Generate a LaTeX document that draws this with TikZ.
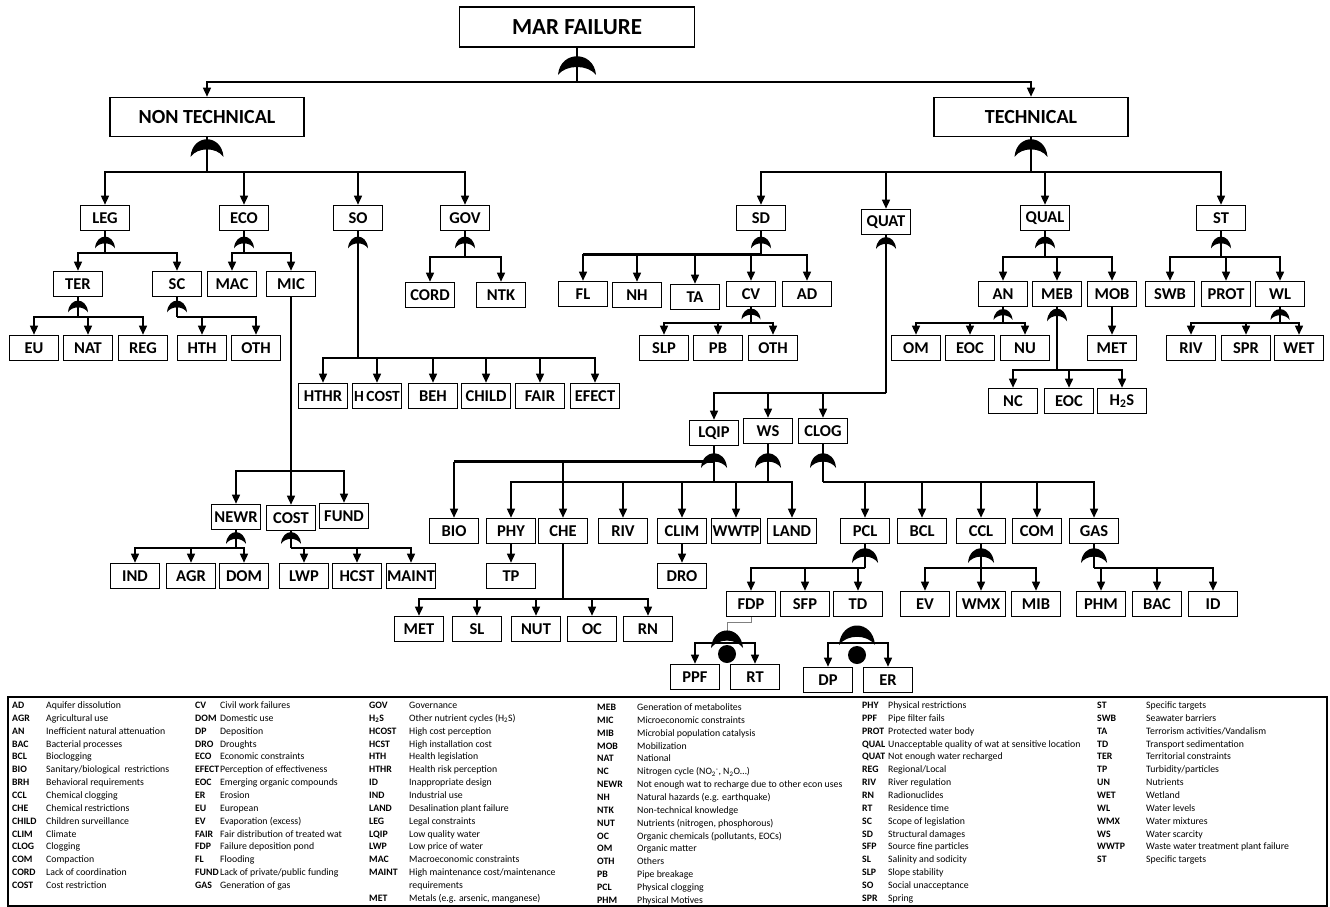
\documentclass[tikz,border=0pt]{standalone}
\usepackage{fontspec}
\setmainfont{Carlito}
\usepackage{array}
\usetikzlibrary{arrows.meta}

\newcommand\boxfont{\fontsize{16.5}{16.5}\selectfont\bfseries}
\newcommand\keyfont{\fontsize{9.8}{12.85}\selectfont}

\tikzset{
	box/.style={draw, line width=1.6pt, minimum width=49pt, minimum height=25pt, inner sep=0pt, font=\boxfont},
	bigbox/.style={box, minimum width=194pt, minimum height=39pt, font=\fontsize{20}{20}\selectfont\bfseries},
	topbox/.style={box, minimum width=235pt, minimum height=40pt, font=\fontsize{23}{23}\selectfont\bfseries},
	link/.style={line width=1.5pt},
	heavy/.style={line width=2.8pt},
	arr/.style={link, -{Triangle[width=8pt,length=9pt]}},
	key/.style={inner sep=0pt, anchor=base west, font=\keyfont},
	crescent/.pic={\fill (-0.5,0) .. controls (-0.44,-1.3) and (0.44,-1.3) .. (0.5,0)
		.. controls (0.28,-0.55) and (-0.28,-0.55) .. (-0.5,0) -- cycle;}
}

% gate under a node: node, tip offset, width, height
\newcommand\gate[4]{\pic[xscale=#3,yscale=#4] at ([yshift=-#2pt]#1.south) {crescent};}
% parent, drop to bar, children
\newcommand\fan[3]{\draw[link] (#1.south) -- ++(0,#2) coordinate (#1j);
	\foreach \c in {#3} {\draw[arr] (#1j) -| (\c.north);}}

\begin{document}
\begin{tikzpicture}[x=1pt, y=-1pt]
	\useasboundingbox (0,0) rectangle (1330,907);
	
	\node[topbox] (mar) at (577,27) {MAR FAILURE};
	\node[bigbox] (nontech) at (207,117) {NON TECHNICAL};
	\node[bigbox] (tech) at (1031,117) {TECHNICAL};
	
	% non technical branch
	\node[box] (leg) at (105,218) {LEG};
	\node[box] (eco) at (244,218) {ECO};
	\node[box] (so) at (358,218) {SO};
	\node[box] (gov) at (465,218) {GOV};
	\node[box] (ter) at (78,284) {TER};
	\node[box] (sc) at (177,284) {SC};
	\node[box] (mac) at (232,284) {MAC};
	\node[box] (mic) at (291,284) {MIC};
	\node[box] (cord) at (430,295) {CORD};
	\node[box] (ntk) at (501,295) {NTK};
	\node[box] (eu) at (34,348) {EU};
	\node[box] (nat) at (88,348) {NAT};
	\node[box] (reg) at (143,348) {REG};
	\node[box] (hth) at (202,348) {HTH};
	\node[box] (oth) at (256,348) {OTH};
	\node[box] (hthr) at (323,396) {HTHR};
	\node[box] (hcost) at (377,396) {\fontsize{15.5}{15.5}\selectfont H\,COST};
	\node[box] (beh) at (433,396) {BEH};
	\node[box] (child) at (486,396) {CHILD};
	\node[box] (fair) at (540,396) {FAIR};
	\node[box] (efect) at (595,396) {EFECT};
	\node[box] (newr) at (236,517) {NEWR};
	\node[box] (cost) at (291,518) {COST};
	\node[box] (fund) at (344,516) {FUND};
	\node[box] (ind) at (135,576) {IND};
	\node[box] (agr) at (191,576) {AGR};
	\node[box] (dom) at (244,576) {DOM};
	\node[box] (lwp) at (304,576) {LWP};
	\node[box] (hcst) at (357,576) {HCST};
	\node[box] (maint) at (411,576) {MAINT};
	
	% technical branch
	\node[box] (sd) at (761,218) {SD};
	\node[box] (quat) at (886,222) {QUAT};
	\node[box] (qual) at (1045,218) {QUAL};
	\node[box] (st) at (1221,218) {ST};
	\node[box] (fl) at (583,294) {FL};
	\node[box] (nh) at (637,295) {NH};
	\node[box] (ta) at (695,297) {TA};
	\node[box] (cv) at (751,294) {CV};
	\node[box] (ad) at (807,294) {AD};
	\node[box] (an) at (1003,294) {AN};
	\node[box] (meb) at (1057,294) {MEB};
	\node[box] (mob) at (1112,294) {MOB};
	\node[box] (swb) at (1170,294) {SWB};
	\node[box] (prot) at (1226,294) {PROT};
	\node[box] (wl) at (1280,294) {WL};
	\node[box] (slp) at (664,348) {SLP};
	\node[box] (pb) at (718,348) {PB};
	\node[box] (oth2) at (773,348) {OTH};
	\node[box] (om) at (916,348) {OM};
	\node[box] (eoc) at (970,348) {EOC};
	\node[box] (nu) at (1025,348) {NU};
	\node[box] (met) at (1112,348) {MET};
	\node[box] (riv) at (1191,348) {RIV};
	\node[box] (spr) at (1246,348) {SPR};
	\node[box] (wet) at (1299,348) {WET};
	\node[box] (nc) at (1013,401) {NC};
	\node[box] (eoc2) at (1069,401) {EOC};
	\node[box] (hs) at (1122,401) {H\textsubscript{2}S};
	\node[box] (lqip) at (714,433) {LQIP};
	\node[box] (ws) at (768,431) {WS};
	\node[box] (clog) at (823,431) {CLOG};
	\node[box] (bio) at (454,531) {BIO};
	\node[box] (phy) at (511,531) {PHY};
	\node[box] (che) at (563,531) {CHE};
	\node[box] (riv2) at (623,531) {RIV};
	\node[box] (clim) at (682,531) {CLIM};
	\node[box] (wwtp) at (736,531) {WWTP};
	\node[box] (land) at (792,531) {LAND};
	\node[box] (pcl) at (865,531) {PCL};
	\node[box] (bcl) at (922,531) {BCL};
	\node[box] (ccl) at (981,531) {CCL};
	\node[box] (com) at (1037,531) {COM};
	\node[box] (gas) at (1094,531) {GAS};
	\node[box] (tp) at (511,576) {TP};
	\node[box] (dro) at (682,576) {DRO};
	\node[box] (fdp) at (751,604) {FDP};
	\node[box] (sfp) at (805,604) {SFP};
	\node[box] (td) at (858,604) {TD};
	\node[box] (ev) at (925,604) {EV};
	\node[box] (wmx) at (981,604) {WMX};
	\node[box] (mib) at (1036,604) {MIB};
	\node[box] (phm) at (1101,604) {PHM};
	\node[box] (bac) at (1157,604) {BAC};
	\node[box] (id) at (1213,604) {ID};
	\node[box] (met2) at (419,629) {MET};
	\node[box] (sl) at (477,629) {SL};
	\node[box] (nut) at (536,629) {NUT};
	\node[box] (oc) at (592,629) {OC};
	\node[box] (rn) at (648,629) {RN};
	\node[box] (ppf) at (695,677) {PPF};
	\node[box] (rt) at (755,677) {RT};
	\node[box] (dp) at (828,680) {DP};
	\node[box] (er) at (888,680) {ER};
	
	% connectors
	\fan{mar}{34}{nontech,tech}
	\gate{mar}{27}{38}{19}
	\fan{nontech}{34.5}{leg,eco,so,gov}
	\gate{nontech}{19.5}{33}{18}
	\fan{tech}{34.5}{sd,quat,qual,st}
	\gate{tech}{19.5}{33}{18}
	
	\fan{leg}{21.5}{ter,sc}
	\gate{leg}{17}{20}{12}
	\fan{eco}{21.5}{mac,mic}
	\gate{eco}{17}{20}{12}
	\draw[heavy] (so.south) -- ++(0,126.5) coordinate (soj);
	\foreach \c in {hthr,hcost,beh,child,fair,efect} {\draw[arr] (soj) -| (\c.north);}
	\gate{so}{17}{20}{12}
	\fan{gov}{25.5}{cord,ntk}
	\gate{gov}{17}{20}{12}
	\fan{ter}{19.5}{eu,nat,reg}
	\gate{ter}{15}{20}{12}
	\fan{sc}{19.5}{hth,oth}
	\gate{sc}{15}{20}{12}
	\fan{mic}{173.5}{newr,cost,fund}
	\fan{newr}{17.5}{ind,agr,dom}
	\gate{newr}{13.5}{20}{12}
	\fan{cost}{16.5}{lwp,hcst,maint}
	\gate{cost}{12.5}{20}{12}
	
	\fan{sd}{23.5}{fl,nh,ta,cv,ad}
	\draw[heavy] (sdj) -- (sdj -| fl);
	\gate{sd}{17}{20}{12}
	\fan{quat}{157.5}{lqip,ws,clog}
	\gate{quat}{13.5}{20}{12}
	\fan{qual}{25.5}{an,meb,mob}
	\gate{qual}{17}{20}{12}
	\fan{st}{25.5}{swb,prot,wl}
	\gate{st}{17}{20}{12}
	\fan{cv}{15.5}{slp,pb,oth2}
	\gate{cv}{12}{19}{11}
	\fan{an}{15.5}{om,eoc,nu}
	\gate{an}{12.5}{19}{11}
	\draw[heavy] (meb.south) -- ++(0,62.5) coordinate (mebj);
	\foreach \c in {nc,eoc2,hs} {\draw[arr] (mebj) -| (\c.north);}
	\gate{meb}{14}{20}{13}
	\draw[arr] (mob) -- (met);
	\fan{wl}{15.5}{riv,spr,wet}
	\gate{wl}{12.5}{19}{11}
	
	\draw[link] (lqip.south) -- ++(0,15.5) coordinate (lqipk) -- ++(0,20) coordinate (lqipj);
	\draw[heavy] (lqipk) -- (lqipk -| bio);
	\draw[arr] (lqipk -| bio) -- (bio.north);
	\draw[arr] (lqipk -| che) -- (che.north);
	\foreach \c in {phy,riv2,clim,wwtp,land} {\draw[arr] (lqipj) -| (\c.north);}
	\draw[link] (ws.south) -- (ws.south |- lqipj);
	\gate{lqip}{21.5}{26}{15}
	\gate{ws}{23.5}{26}{15}
	\fan{clog}{37.5}{pcl,bcl,ccl,com,gas}
	\gate{clog}{23.5}{26}{15}
	\draw[arr] (phy) -- (tp);
	\draw[arr] (clim) -- (dro);
	\fan{che}{54.5}{met2,sl,nut,oc,rn}
	\fan{pcl}{23.5}{fdp,sfp,td}
	\gate{pcl}{18.5}{26}{15}
	\fan{ccl}{23.5}{ev,wmx,mib}
	\gate{ccl}{18.5}{26}{15}
	\fan{gas}{23.5}{phm,bac,id}
	\gate{gas}{18.5}{26}{15}
	
	% gates with a dot
	\coordinate (fdpbar) at (727,643);
	\draw[gray, line width=0.8pt] (fdp.south) -- ++(0,5) -| (727,632);
	\foreach \c in {ppf,rt} {\draw[arr] (fdpbar) -| (\c.north);}
	\pic[xscale=32,yscale=18] at (727,648) {crescent};
	\fill (727,654) circle (9);
	\coordinate (tdbar) at (857,643);
	\foreach \c in {dp,er} {\draw[arr] (tdbar) -| (\c.north);}
	\pic[xscale=36,yscale=20] at (857,645) {crescent};
	\fill (857,655) circle (9);
	
	% key
	\draw[line width=1.2pt] (8,697) rectangle (1327,906);
	\node[key] (key1) at (12,708.5) {\begin{tabular}[t]{@{}>{\bfseries}p{34pt}@{}l@{}}
		AD & Aquifer dissolution\\
		AGR & Agricultural use\\
		AN & Inefficient natural attenuation\\
		BAC & Bacterial processes\\
		BCL & Bioclogging\\
		BIO & Sanitary/biological\ \ restrictions\\
		BRH & Behavioral requirements\\
		CCL & Chemical clogging\\
		CHE & Chemical restrictions\\
		CHILD & Children surveillance\\
		CLIM & Climate\\
		CLOG & Clogging\\
		COM & Compaction\\
		CORD & Lack of coordination\\
		COST & Cost restriction
	\end{tabular}};
	\node[key] (key2) at (195,708.5) {\begin{tabular}[t]{@{}>{\bfseries}p{25pt}@{}l@{}}
		CV & Civil work failures\\
		DOM & Domestic use\\
		DP & Deposition\\
		DRO & Droughts\\
		ECO & Economic constraints\\
		EFECT & Perception of effectiveness\\
		EOC & Emerging organic compounds\\
		ER & Erosion\\
		EU & European\\
		EV & Evaporation (excess)\\
		FAIR & Fair distribution of treated wat\\
		FDP & Failure deposition pond\\
		FL & Flooding\\
		FUND & Lack of private/public funding\\
		GAS & Generation of gas
	\end{tabular}};
	\node[key] (key3) at (369,708.5) {\begin{tabular}[t]{@{}>{\bfseries}p{40pt}@{}l@{}}
		GOV & Governance\\
		H\textsubscript{2}S & Other nutrient cycles (H\textsubscript{2}S)\\
		HCOST & High cost perception\\
		HCST & High installation cost\\
		HTH & Health legislation\\
		HTHR & Health risk perception\\
		ID & Inappropriate design\\
		IND & Industrial use\\
		LAND & Desalination plant failure\\
		LEG & Legal constraints\\
		LQIP & Low quality water\\
		LWP & Low price of water\\
		MAC & Macroeconomic constraints\\
		MAINT & High maintenance cost/maintenance\\
		& requirements\\
		MET & Metals (e.g. arsenic, manganese)
	\end{tabular}};
	\node[key] (key4) at (597,710.5) {\begin{tabular}[t]{@{}>{\bfseries}p{40pt}@{}l@{}}
		MEB & Generation of metabolites\\
		MIC & Microeconomic constraints\\
		MIB & Microbial population catalysis\\
		MOB & Mobilization\\
		NAT & National\\
		NC & Nitrogen cycle (NO\textsubscript{2}\textsuperscript{-}, N\textsubscript{2}O\ldots)\\
		NEWR & Not enough wat to recharge due to other econ uses\\
		NH & Natural hazards (e.g. earthquake)\\
		NTK & Non-technical knowledge\\
		NUT & Nutrients (nitrogen, phosphorous)\\
		OC & Organic chemicals (pollutants, EOCs)\\
		OM & Organic matter\\
		OTH & Others\\
		PB & Pipe breakage\\
		PCL & Physical clogging\\
		PHM & Physical Motives
	\end{tabular}};
	\node[key] (key5) at (862,708.5) {\begin{tabular}[t]{@{}>{\bfseries}p{26pt}@{}l@{}}
		PHY & Physical restrictions\\
		PPF & Pipe filter fails\\
		PROT & Protected water body\\
		QUAL & Unacceptable quality of wat at sensitive location\\
		QUAT & Not enough water recharged\\
		REG & Regional/Local\\
		RIV & River regulation\\
		RN & Radionuclides\\
		RT & Residence time\\
		SC & Scope of legislation\\
		SD & Structural damages\\
		SFP & Source fine particles\\
		SL & Salinity and sodicity\\
		SLP & Slope stability\\
		SO & Social unacceptance\\
		SPR & Spring
	\end{tabular}};
	\node[key] (key6) at (1097,708.5) {\begin{tabular}[t]{@{}>{\bfseries}p{49pt}@{}l@{}}
		ST & Specific targets\\
		SWB & Seawater barriers\\
		TA & Terrorism activities/Vandalism\\
		TD & Transport sedimentation\\
		TER & Territorial constraints\\
		TP & Turbidity/particles\\
		UN & Nutrients\\
		WET & Wetland\\
		WL & Water levels\\
		WMX & Water mixtures\\
		WS & Water scarcity\\
		WWTP & Waste water treatment plant failure\\
		ST & Specific targets
	\end{tabular}};
	
\end{tikzpicture}
\end{document}
